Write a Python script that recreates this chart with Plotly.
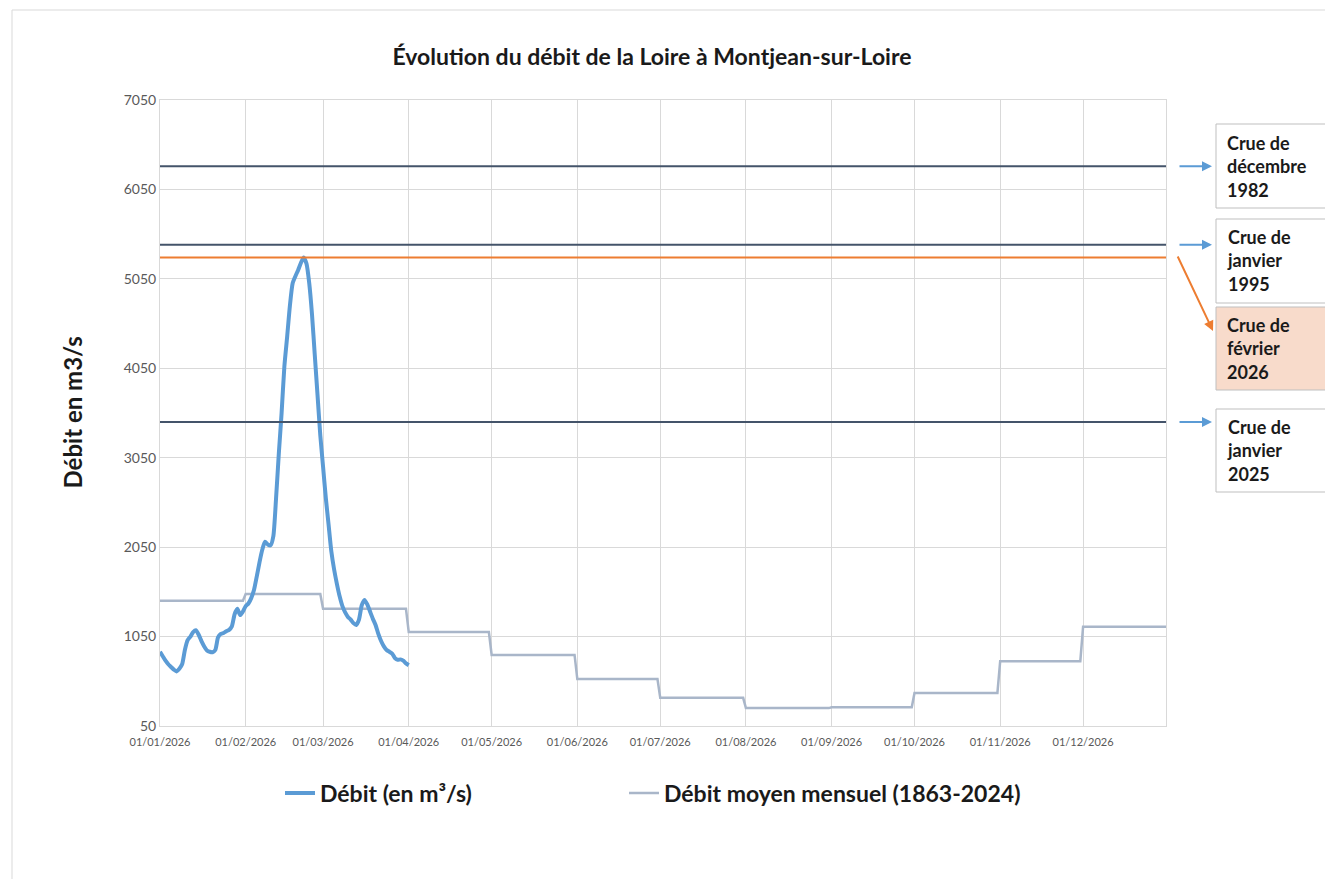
import pandas as pd
from plotly import graph_objects as go

# daily flow at Montjean-sur-Loire, 01/01/2026 -> 01/04/2026 (m3/s)
debit_start = "2026-01-01"
debit = [
    880, 830, 780, 740, 710, 680, 660, 690, 740, 900,
    1010, 1050, 1100, 1120, 1070, 1000, 940, 895, 880, 875,
    900, 1040, 1080, 1090, 1110, 1125, 1165, 1300, 1360, 1290,
    1330, 1390, 1420, 1480, 1570, 1720, 1880, 2020, 2110, 2080,
    2070, 2170, 2600, 3100, 3550, 4070, 4400, 4750, 5000, 5080,
    5150, 5230, 5290, 5220, 5000, 4650, 4200, 3750, 3300, 2950,
    2600, 2300, 2000, 1800, 1640, 1500, 1390, 1320, 1270, 1240,
    1200, 1180, 1240, 1400, 1460, 1410, 1330, 1250, 1180, 1080,
    1000, 940, 900, 880, 860, 810, 790, 795, 780, 750,
    730,
]

# monthly mean flow 1863-2024 (m3/s), January -> December
debit_moyen_mensuel = [1450, 1525, 1360, 1100, 845, 575, 365, 250, 260, 420, 775, 1160]

# reference floods
crues = [6310, 5430, 3450]
crue_labels = ["Crue de<br>décembre<br>1982", "Crue de<br>janvier<br>1995", "Crue de<br>janvier<br>2025"]
crue_2026 = 5290
crue_2026_label = "Crue de<br>février<br>2026"

month_ticks = [f"2026-{m:02d}-01" for m in range(1, 13)]
month_ticktext = [f"01/{m:02d}/2026" for m in range(1, 13)]

FONT = "Lato"
BLUE = "#5B9BD5"
GREY = "#A9B6C9"
DARK = "#44546A"
ORANGE = "#ED7D31"
TEXT = "#1a1a1a"

# the page puts the figure at (8, 8); positions below are in screen pixels
OFF = 8
W, H = 1333 - OFF, 887 - 2 * OFF
L, T = 160 - OFF, 100 - OFF
R, B = W - (1166 - OFF), H - (726 - OFF)
PW, PH = W - L - R, H - T - B


def px_x(px):
    return (px - OFF - L) / PW


def px_y(py):
    return (H - B - (py - OFF)) / PH


fig = go.Figure()

# expand monthly means to a daily series over the year
days = pd.date_range("2026-01-01", "2026-12-31", freq="D")
moyen_daily = [debit_moyen_mensuel[d.month - 1] for d in days]

fig.add_trace(
    go.Scatter(
        name="Débit moyen mensuel (1863-2024)",
        x=days,
        y=moyen_daily,
        mode="lines",
        line=dict(color=GREY, width=2.5),
        legend="legend2",
        showlegend=True,
    )
)
fig.add_trace(
    go.Scatter(
        name="Débit (en m³/s)",
        x=pd.date_range(debit_start, periods=len(debit), freq="D"),
        y=debit,
        mode="lines",
        line=dict(color=BLUE, width=4, shape="spline", smoothing=0.6),
        legend="legend",
        showlegend=True,
    )
)

# flood reference lines
for value in crues:
    fig.add_hline(y=value, line=dict(color=DARK, width=2))
fig.add_hline(y=crue_2026, line=dict(color=ORANGE, width=2))

# text boxes on the right: (top, bottom) in screen pixels
boxes = [(124, 208), (219, 303), (409, 492)]
box_2026 = (307, 390)


def add_box(label, top, bottom, fill):
    fig.add_shape(
        type="rect", xref="paper", yref="paper",
        x0=px_x(1216), x1=px_x(1332), y0=px_y(bottom), y1=px_y(top),
        line=dict(color="#BFBFBF", width=1), fillcolor=fill,
    )
    fig.add_annotation(
        xref="paper", yref="paper", x=px_x(1225), y=px_y((top + bottom) / 2),
        xanchor="left", yanchor="middle", align="left", showarrow=False,
        text=f"<b>{label}</b>", font=dict(family=FONT, size=18, color=TEXT),
    )


for value, label, (top, bottom) in zip(crues, crue_labels, boxes):
    add_box(label, top, bottom, "white")
    fig.add_annotation(
        xref="paper", yref="y", x=px_x(1212), y=value, ax=-34, ay=0,
        text="", showarrow=True, arrowhead=2, arrowsize=1, arrowwidth=2, arrowcolor=BLUE,
    )

add_box(crue_2026_label, *box_2026, "#F8DBCB")
fig.add_annotation(
    xref="paper", yref="paper", x=px_x(1213), y=px_y(331), ax=-36, ay=-76,
    text="", showarrow=True, arrowhead=2, arrowsize=1, arrowwidth=2, arrowcolor=ORANGE,
)

# y axis title
fig.add_annotation(
    xref="paper", yref="paper", x=px_x(55), y=px_y(413), textangle=-90,
    text="<b>Débit en m3/s</b>", showarrow=False,
    font=dict(family=FONT, size=24, color=TEXT),
)

# outer frame of the chart area
fig.add_shape(
    type="rect", xref="paper", yref="paper",
    x0=px_x(12), x1=px_x(1345), y0=px_y(900), y1=px_y(10),
    line=dict(color="#D9D9D9", width=1),
)

legend_style = dict(
    orientation="h", yanchor="middle", xanchor="left", itemwidth=30,
    font=dict(family=FONT, size=23, color=TEXT, weight="bold"),
)
fig.update_layout(
    width=W,
    height=H,
    margin=dict(l=L, r=R, t=T, b=B),
    plot_bgcolor="white",
    paper_bgcolor="white",
    font=dict(family=FONT),
    showlegend=True,
    title=dict(
        text="<b>Évolution du débit de la Loire à Montjean-sur-Loire</b>",
        x=(652 - OFF) / W, xanchor="center", y=1 - (57 - OFF) / H, yanchor="middle",
        font=dict(family=FONT, size=23, color=TEXT),
    ),
    legend=dict(x=px_x(280), y=px_y(793), **legend_style),
    legend2=dict(x=px_x(624), y=px_y(793), **legend_style),
)

grid = dict(showgrid=True, gridcolor="#D9D9D9", gridwidth=1)
fig.update_xaxes(
    **grid,
    range=["2026-01-01", "2026-12-31"],
    tickvals=month_ticks,
    ticktext=month_ticktext,
    tickfont=dict(family=FONT, size=11, color="#595959"),
    ticklabelstandoff=6,
    showline=True, linecolor="#D9D9D9", linewidth=1, mirror=True,
    zeroline=False,
)
fig.update_yaxes(
    **grid,
    range=[50, 7050],
    tick0=50,
    dtick=1000,
    tickfont=dict(family=FONT, size=14, color="#595959"),
    showline=True, linecolor="#D9D9D9", linewidth=1, mirror=True,
    zeroline=False,
)

fig.write_html("out.html")
